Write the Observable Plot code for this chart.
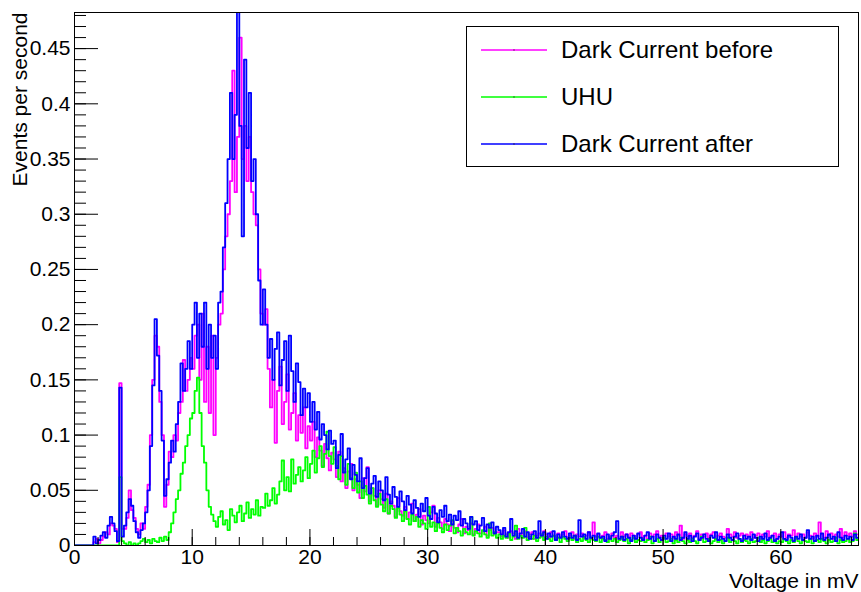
<!DOCTYPE html>
<html>
<head>
<meta charset="utf-8">
<script src="https://cdn.jsdelivr.net/npm/d3@7"></script>
<script src="https://cdn.jsdelivr.net/npm/@observablehq/plot@0.6"></script>
<style>
  html, body { margin: 0; padding: 0; background: #fff; }
  #wrap { position: relative; width: 861px; height: 592px; font-family: 'Liberation Sans', Arial, sans-serif; }
  #legend { position: absolute; left: 466px; top: 26px; width: 371px; height: 139px; border: 1px solid #000; background: #fff; box-sizing: content-box; }
  .entry { position: absolute; left: 0; height: 0; }
  .entry svg { position: absolute; left: 14px; top: -5px; }
  .entry span { position: absolute; left: 94px; top: -14px; font-size: 24px; line-height: 28px; white-space: nowrap; color: #000; }
</style>
</head>
<body>
<div id="wrap"><div id="chart"></div><div id="legend"></div></div>
<script>
// Bin width of the histograms (mV)
const binWidth = 0.2;

const seriesNames = ["Dark Current before", "UHU", "Dark Current after"];
const seriesColors = ["#ff00ff", "#00ff00", "#0000ff"];

const xTicks = [0, 10, 20, 30, 40, 50, 60];
const xMinorTicks = [0,2,4,6,8,10,12,14,16,18,20,22,24,26,28,30,32,34,36,38,40,42,44,46,48,50,52,54,56,58,60,62,64,66];
const yTicks = [0, 0.05, 0.1, 0.15, 0.2, 0.25, 0.3, 0.35, 0.4, 0.45];
const yMinorTicks = [0,0.01,0.02,0.03,0.04,0.05,0.06,0.07,0.08,0.09,0.1,0.11,0.12,0.13,0.14,0.15,0.16,0.17,0.18,0.19,0.2,0.21,0.22,0.23,0.24,0.25,0.26,0.27,0.28,0.29,0.3,0.31,0.32,0.33,0.34,0.35,0.36,0.37,0.38,0.39,0.4,0.41,0.42,0.43,0.44,0.45,0.46,0.47,0.48];

// Events per second, Dark Current before
const before = [
0,0,0,0,0,0,0,0,0.003,0.006,
0.002,0.005,0.008,0.012,0.01,0.02,0.018,0.015,0.003,0.147,
0.015,0.015,0.025,0.05,0.032,0.025,0.015,0.01,0.02,0.015,
0.035,0.055,0.1,0.15,0.19,0.18,0.13,0.1,0.035,0.055,
0.085,0.08,0.1,0.095,0.12,0.13,0.168,0.14,0.15,0.17,
0.16,0.19,0.2,0.15,0.21,0.13,0.18,0.12,0.19,0.1,
0.17,0.2,0.21,0.25,0.28,0.3,0.33,0.43,0.32,0.37,
0.46,0.35,0.38,0.33,0.37,0.32,0.3,0.29,0.25,0.21,
0.2,0.214,0.16,0.125,0.15,0.093,0.14,0.162,0.11,0.13,
0.155,0.105,0.12,0.138,0.095,0.118,0.102,0.125,0.088,0.108,
0.095,0.112,0.08,0.098,0.086,0.072,0.092,0.079,0.068,0.084,
0.078,0.062,0.085,0.058,0.07,0.052,0.067,0.074,0.05,0.06,
0.055,0.043,0.061,0.049,0.071,0.04,0.052,0.045,0.036,0.05,
0.042,0.034,0.047,0.029,0.04,0.036,0.026,0.043,0.031,0.027,
0.035,0.024,0.03,0.038,0.022,0.028,0.033,0.019,0.027,0.023,
0.02,0.03,0.036,0.017,0.025,0.021,0.015,0.024,0.019,0.013,
0.022,0.016,0.012,0.019,0.024,0.011,0.017,0.014,0.02,0.01,
0.015,0.019,0.011,0.013,0.017,0.009,0.014,0.016,0.01,0.012,
0.012,0.008,0.014,0.01,0.007,0.013,0.011,0.006,0.015,0.009,
0.011,0.013,0.007,0.01,0.012,0.006,0.009,0.011,0.008,0.013,
0.01,0.007,0.012,0.009,0.006,0.011,0.008,0.01,0.013,0.007,
0.009,0.012,0.006,0.01,0.008,0.011,0.007,0.009,0.012,0.006,
0.021,0.008,0.01,0.007,0.009,0.012,0.006,0.008,0.011,0.007,
0.009,0.006,0.012,0.008,0.01,0.007,0.011,0.009,0.006,0.01,
0.012,0.007,0.009,0.006,0.011,0.008,0.01,0.013,0.007,0.009,
0.006,0.011,0.008,0.01,0.007,0.012,0.009,0.018,0.006,0.01,
0.008,0.011,0.007,0.009,0.013,0.006,0.01,0.008,0.011,0.007,
0.01,0.012,0.006,0.009,0.011,0.008,0.007,0.015,0.01,0.008,
0.012,0.007,0.009,0.011,0.006,0.01,0.008,0.012,0.007,0.009,
0.011,0.006,0.01,0.008,0.013,0.007,0.009,0.011,0.006,0.01,
0.008,0.012,0.007,0.01,0.009,0.014,0.006,0.011,0.008,0.01,
0.007,0.012,0.009,0.006,0.011,0.008,0.021,0.01,0.007,0.013,
0.009,0.011,0.006,0.01,0.008,0.015,0.007,0.012,0.009,0.011,
0.008,0.013,0.01
];

// Events per second, UHU
const uhu = [
0,0,0,0,0,0,0,0,0,0,
0,0,0,0,0,0,0,0,0,0.062,
0.004,0.002,0,0.003,0,0.002,0,0.002,0.004,0.006,
0.003,0.005,0.002,0.006,0.004,0.003,0.007,0.004,0.008,0.005,
0.012,0.02,0.03,0.042,0.05,0.065,0.075,0.09,0.1,0.115,
0.12,0.14,0.152,0.12,0.09,0.075,0.05,0.035,0.028,0.022,
0.017,0.026,0.031,0.019,0.023,0.014,0.033,0.027,0.021,0.03,
0.036,0.022,0.029,0.039,0.025,0.033,0.028,0.041,0.027,0.035,
0.034,0.047,0.036,0.041,0.052,0.038,0.046,0.058,0.077,0.05,
0.062,0.049,0.078,0.056,0.064,0.071,0.058,0.068,0.08,0.061,
0.074,0.086,0.066,0.079,0.09,0.071,0.083,0.103,0.081,0.074,
0.089,0.072,0.06,0.081,0.067,0.055,0.074,0.061,0.052,0.066,
0.048,0.058,0.043,0.054,0.046,0.038,0.052,0.041,0.035,0.047,
0.037,0.031,0.042,0.029,0.036,0.033,0.025,0.034,0.028,0.022,
0.031,0.024,0.019,0.028,0.022,0.026,0.017,0.023,0.02,0.015,
0.035,0.017,0.021,0.013,0.02,0.016,0.012,0.019,0.014,0.018,
0.023,0.011,0.016,0.013,0.009,0.015,0.012,0.01,0.026,0.009,
0.013,0.011,0.008,0.014,0.01,0.007,0.02,0.009,0.012,0.007,
0.01,0.006,0.009,0.007,0.011,0.005,0.008,0.018,0.006,0.009,
0.007,0.016,0.005,0.008,0.006,0.009,0.004,0.007,0.01,0.005,
0.008,0.006,0.004,0.009,0.005,0.007,0.003,0.008,0.006,0.004,
0.007,0.005,0.009,0.003,0.006,0.004,0.008,0.005,0.003,0.007,
0.005,0.004,0.008,0.003,0.006,0.005,0.003,0.007,0.004,0.006,
0.003,0.005,0.008,0.004,0.006,0.002,0.005,0.007,0.003,0.005,
0.004,0.006,0.003,0.005,0.008,0.002,0.004,0.006,0.003,0.005,
0.007,0.003,0.004,0.006,0.002,0.005,0.003,0.007,0.004,0.002,
0.005,0.003,0.006,0.004,0.002,0.005,0.008,0.003,0.004,0.006,
0.002,0.004,0.006,0.003,0.005,0.002,0.004,0.007,0.003,0.005,
0.004,0.002,0.006,0.003,0.005,0.004,0.002,0.006,0.003,0.004,
0.007,0.003,0.005,0.002,0.004,0.006,0.003,0.005,0.002,0.004,
0.003,0.006,0.004,0.002,0.005,0.003,0.007,0.004,0.002,0.005,
0.004,0.003,0.006,0.002,0.004,0.005,0.003,0.006,0.004,0.002,
0.005,0.003,0.004,0.007,0.002,0.005,0.003,0.004,0.006,0.003,
0.004,0.011,0.005
];

// Events per second, Dark Current after
const after = [
0,0,0,0,0,0,0,0,0.008,0.002,
0.005,0.009,0.012,0.007,0.018,0.026,0.02,0.013,0.004,0.143,
0.008,0.018,0.03,0.042,0.036,0.022,0.012,0.007,0.014,0.02,
0.03,0.05,0.09,0.145,0.205,0.172,0.14,0.095,0.045,0.06,
0.075,0.095,0.085,0.11,0.13,0.165,0.14,0.16,0.185,0.16,
0.2,0.22,0.17,0.21,0.18,0.22,0.16,0.2,0.17,0.19,
0.16,0.22,0.23,0.27,0.31,0.35,0.41,0.35,0.39,0.485,
0.38,0.28,0.44,0.36,0.41,0.33,0.35,0.3,0.24,0.2,
0.232,0.2,0.17,0.187,0.15,0.178,0.193,0.145,0.168,0.185,
0.14,0.19,0.158,0.13,0.165,0.148,0.118,0.142,0.125,0.138,
0.112,0.13,0.105,0.121,0.096,0.11,0.1,0.087,0.104,0.092,
0.095,0.07,0.082,0.101,0.066,0.078,0.088,0.06,0.073,0.064,
0.058,0.079,0.052,0.061,0.07,0.047,0.056,0.063,0.044,0.058,
0.05,0.041,0.062,0.046,0.038,0.053,0.044,0.035,0.049,0.04,
0.032,0.045,0.037,0.029,0.041,0.034,0.026,0.038,0.031,0.043,
0.027,0.024,0.035,0.029,0.021,0.032,0.026,0.036,0.022,0.028,
0.019,0.027,0.023,0.031,0.018,0.024,0.02,0.015,0.026,0.019,
0.022,0.014,0.018,0.025,0.013,0.019,0.016,0.021,0.011,0.017,
0.014,0.01,0.016,0.008,0.012,0.024,0.009,0.013,0.007,0.011,
0.015,0.008,0.012,0.006,0.01,0.013,0.007,0.022,0.009,0.012,
0.006,0.011,0.008,0.013,0.005,0.01,0.007,0.012,0.008,0.006,
0.011,0.007,0.009,0.005,0.023,0.008,0.01,0.006,0.012,0.007,
0.009,0.005,0.011,0.007,0.008,0.004,0.01,0.006,0.009,0.012,
0.022,0.006,0.008,0.005,0.01,0.007,0.004,0.009,0.006,0.011,
0.007,0.005,0.009,0.012,0.006,0.008,0.004,0.01,0.007,0.005,
0.009,0.006,0.011,0.004,0.008,0.006,0.01,0.005,0.007,0.012,
0.006,0.009,0.004,0.008,0.011,0.005,0.007,0.01,0.006,0.004,
0.009,0.007,0.012,0.005,0.008,0.006,0.004,0.01,0.007,0.005,
0.008,0.011,0.006,0.004,0.009,0.006,0.008,0.005,0.01,0.007,
0.004,0.008,0.006,0.011,0.005,0.007,0.009,0.004,0.006,0.008,
0.012,0.006,0.005,0.009,0.007,0.004,0.008,0.006,0.01,0.005,
0.007,0.014,0.006,0.008,0.004,0.009,0.006,0.011,0.005,0.007,
0.01,0.006,0.008,0.004,0.012,0.007,0.005,0.009,0.006,0.008,
0.005,0.01,0.007
];

const allSeries = [before, uhu, after];

function steps(values) {
  const pts = values.map((v, i) => ({x: i * binWidth, y: v}));
  pts.push({x: values.length * binWidth, y: values[values.length - 1]});
  return pts;
}

const FS = 21;
const chart = Plot.plot({
  width: 861,
  height: 592,
  marginLeft: 74,
  marginRight: 3,
  marginTop: 12,
  marginBottom: 47,
  style: {fontFamily: "'Liberation Sans', Arial, sans-serif", fontSize: FS + "px", background: "#fff", color: "#000"},
  x: {domain: [0, 66.6]},
  y: {domain: [0, 0.4827]},
  marks: [
    ...allSeries.map((vals, k) => Plot.line(steps(vals), {x: "x", y: "y", curve: "step-after", stroke: seriesColors[k], strokeWidth: 1.8, clip: true})),
    Plot.axisY({ticks: yMinorTicks, tickSize: 12, dx: 12, text: null, label: null, stroke: "#000"}),
    Plot.axisY({ticks: yTicks, tickSize: 24, dx: 24, text: null, label: null, stroke: "#000"}),
    Plot.axisY({ticks: yTicks, tickSize: 0, tickPadding: 4, tickFormat: d => String(d), fontSize: FS, label: null}),
    Plot.axisX({ticks: xMinorTicks, tickSize: 8, dy: -8, text: null, label: null, stroke: "#000"}),
    Plot.axisX({ticks: xTicks, tickSize: 16, dy: -16, text: null, label: null, stroke: "#000"}),
    Plot.axisX({ticks: xTicks, tickSize: 0, tickPadding: 4, tickFormat: d => String(d), fontSize: FS, label: null}),
    Plot.frame({stroke: "#000", strokeWidth: 1}),
    Plot.text(["Voltage in mV"], {frameAnchor: "bottom-right", textAnchor: "end", lineAnchor: "bottom", dy: 42, fontSize: FS, fill: "#000"}),
    Plot.text(["Events per second"], {frameAnchor: "top-left", textAnchor: "end", lineAnchor: "bottom", rotate: -90, dx: -48, fontSize: FS, fill: "#000"})
  ]
});
document.getElementById("chart").appendChild(chart);

// Legend (drawn inside the frame, top-right, ROOT style)
const legend = document.getElementById("legend");
const entryTops = [23, 70, 117];
seriesNames.forEach((name, k) => {
  const e = document.createElement("div");
  e.className = "entry";
  e.style.top = entryTops[k] + "px";
  e.innerHTML = `<svg width="66" height="10"><line x1="0" y1="5" x2="66" y2="5" stroke="${seriesColors[k]}" stroke-width="1.4"/><rect x="32.5" y="4.5" width="1" height="1" fill="#000"/></svg><span>${name}</span>`;
  legend.appendChild(e);
});
</script>
</body>
</html>
